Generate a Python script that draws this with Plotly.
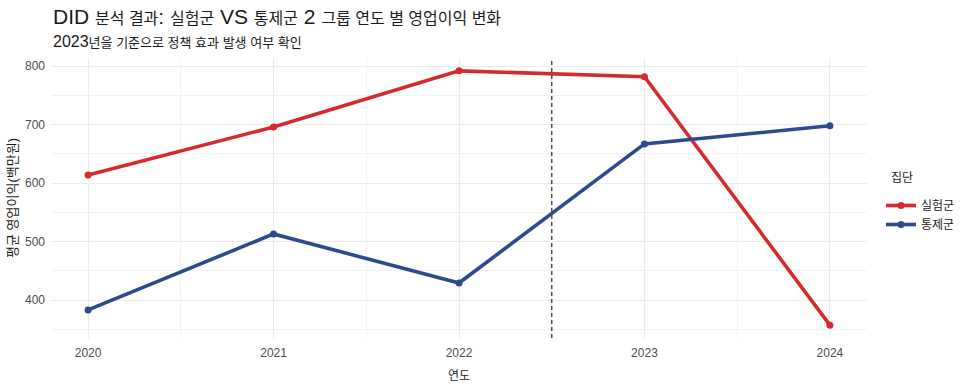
import plotly.graph_objects as go

years = [2020, 2021, 2022, 2023, 2024]
groups = ["실험군", "통제군"]
treat_vals = [614, 696, 792, 782, 357]
control_vals = [383, 513, 429, 667, 698]
colors = ["#D62A2E", "#2C4A8C"]
policy_line = 2022.5
y_ticks = [400, 500, 600, 700, 800]

FONT = "Liberation Sans, Arial, Noto Sans CJK KR, sans-serif"
W, H = 964, 388
ML, MT = 51, 58
PW, PH = 816, 280
MR, MB = W - ML - PW, H - MT - PH


def px_x(px):
    return (px - ML) / PW


def px_y(py):
    return (H - MB - py) / PH


fig = go.Figure()
for name, vals, col in zip(groups, [treat_vals, control_vals], colors):
    fig.add_trace(go.Scatter(
        x=years, y=vals, name=name, mode="lines+markers",
        line=dict(color=col, width=3.6),
        marker=dict(color=col, size=7),
    ))

fig.add_vline(x=policy_line, line=dict(color="#4d4d4d", width=1.5, dash="4px,3px"))

K = "<span style='font-size:16px'>{}</span>"
title_txt = ("DID " + K.format("분석 결과") + ": " + K.format("실험군") + " VS " + K.format("통제군")
             + " 2 " + K.format("그룹 연도 별 영업이익 변화"))
sub_txt = "2023<span style='font-size:13px'>년을 기준으로 정책 효과 발생 여부 확인</span>"

fig.add_annotation(text=title_txt, xref="paper", yref="paper", x=px_x(51), y=px_y(16),
                   xanchor="left", yanchor="middle", showarrow=False,
                   font=dict(size=21, color="#1a1a1a", family=FONT))
fig.add_annotation(text=sub_txt, xref="paper", yref="paper", x=px_x(51), y=px_y(42),
                   xanchor="left", yanchor="middle", showarrow=False,
                   font=dict(size=16, color="#1a1a1a", family=FONT))
fig.add_annotation(text="집단", xref="paper", yref="paper", x=px_x(889), y=px_y(178),
                   xanchor="left", yanchor="middle", showarrow=False,
                   font=dict(size=12, color="#1a1a1a", family=FONT))

fig.update_layout(
    width=W, height=H,
    paper_bgcolor="white", plot_bgcolor="white",
    font=dict(family=FONT, color="#333333", size=12),
    margin=dict(l=ML, r=MR, t=MT, b=MB, autoexpand=False),
    legend=dict(
        x=px_x(881), xanchor="left", y=px_y(191), yanchor="top",
        font=dict(size=12, color="#1a1a1a"),
        bgcolor="rgba(0,0,0,0)",
    ),
    xaxis=dict(
        range=[2019.8, 2024.2], tickvals=years, ticktext=[str(y) for y in years],
        showgrid=True, gridcolor="#EBEBEB", gridwidth=1,
        minor=dict(dtick=0.5, tick0=2019.5, showgrid=True, gridcolor="#F2F2F2", gridwidth=0.6),
        zeroline=False, showline=False, ticks="", automargin=False,
        ticklabelstandoff=6,
        tickfont=dict(size=12, color="#4d4d4d"),
        title=dict(text="연도", font=dict(size=12, color="#1a1a1a"), standoff=12),
    ),
    yaxis=dict(
        range=[335, 814], tickvals=y_ticks,
        showgrid=True, gridcolor="#EBEBEB", gridwidth=1,
        minor=dict(dtick=50, tick0=350, showgrid=True, gridcolor="#F2F2F2", gridwidth=0.6),
        zeroline=False, showline=False, ticks="", automargin=False,
        ticklabelstandoff=5,
        tickfont=dict(size=12, color="#4d4d4d"),
        title=dict(text="평균 영업이익(백만원)", font=dict(size=13, color="#1a1a1a"), standoff=4),
    ),
)

fig.write_html("out.html", config={"displayModeBar": False},
               post_script="document.body.style.margin='0';")
